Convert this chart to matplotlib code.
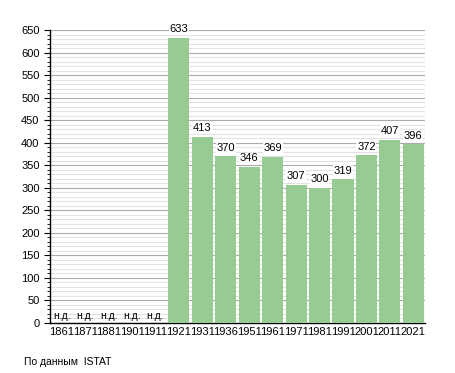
import matplotlib.pyplot as plt
import numpy as np
from matplotlib.ticker import MultipleLocator

plt.rcParams['font.family'] = ['Liberation Sans', 'DejaVu Sans']

years = ["1861", "1871", "1881", "1901", "1911", "1921", "1931", "1936",
         "1951", "1961", "1971", "1981", "1991", "2001", "2011", "2021"]
population = [None, None, None, None, None, 633, 413, 370,
              346, 369, 307, 300, 319, 372, 407, 396]
no_data_label = "н.д."
source_note = "По данным  ISTAT"

fig = plt.figure(figsize=(4.55, 3.73), dpi=100)
ax = fig.add_axes([50 / 455, 1 - 323 / 373, 375 / 455, 293 / 373])

x = np.arange(len(years))
heights = [v if v is not None else 0 for v in population]
ax.bar(x, heights, width=0.9, color="#96cb94", zorder=3)

for xi, v in zip(x, population):
    if v is None:
        ax.text(xi, 5, no_data_label, ha="center", va="bottom", fontsize=7.5, zorder=4)
    else:
        ax.text(xi, v + 8, str(v), ha="center", va="bottom", fontsize=8, zorder=4,
                bbox=dict(facecolor="white", edgecolor="none", pad=0.5))

ax.set_xlim(-0.5, len(years) - 0.5)
ax.set_ylim(0, 650)
ax.set_xticks(x)
ax.set_xticklabels(years, fontsize=8)
ax.tick_params(axis="x", length=0, pad=3)
ax.yaxis.set_major_locator(MultipleLocator(50))
ax.yaxis.set_minor_locator(MultipleLocator(10))
ax.tick_params(axis="y", which="major", length=4, labelsize=8, direction="out")
ax.tick_params(axis="y", which="minor", length=2, direction="out")
ax.grid(axis="y", which="major", color="#aaaaaa", linewidth=0.8, zorder=0)
ax.grid(axis="y", which="minor", color="#e2e2e2", linewidth=0.8, zorder=0)

for side in ["top", "right"]:
    ax.spines[side].set_visible(False)
ax.spines["left"].set_linewidth(1)
ax.spines["bottom"].set_linewidth(1)

fig.text(24 / 455, 1 - 362 / 373, source_note, fontsize=7.5, va="center")

fig.savefig("out.png", dpi=100)
